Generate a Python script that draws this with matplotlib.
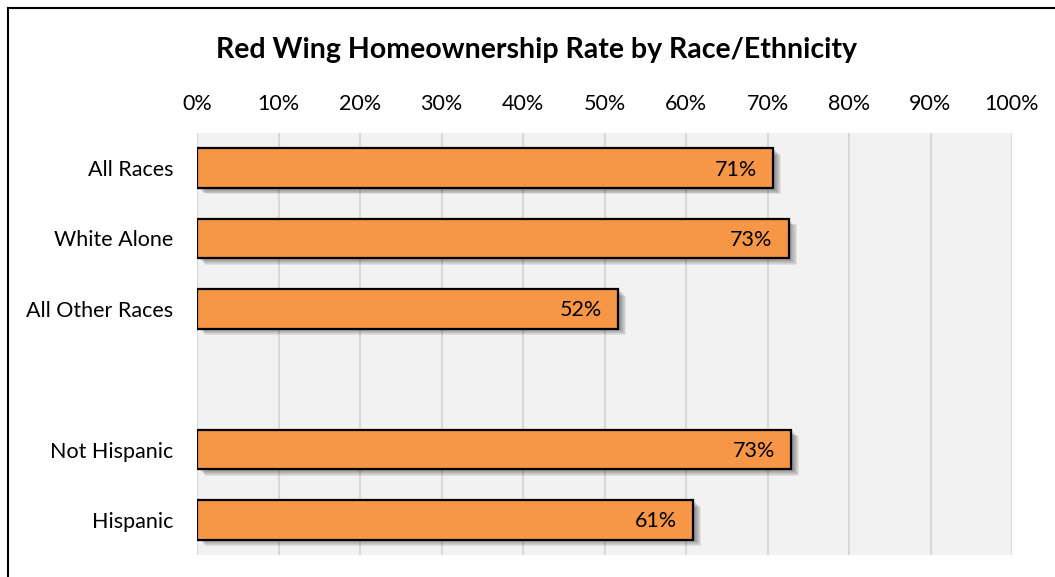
import numpy as np
import matplotlib.pyplot as plt
from matplotlib.ticker import FuncFormatter, MultipleLocator
from matplotlib.patches import Rectangle

plt.rcParams['font.family'] = ['Lato', 'DejaVu Sans']

# homeownership rate (%) by group; the empty slot splits race from ethnicity
groups = ["All Races", "White Alone", "All Other Races", "", "Not Hispanic", "Hispanic"]
rates = [70.7, 72.6, 51.7, None, 72.9, 60.9]

fig = plt.figure(figsize=(10.55, 5.77), dpi=100)
ax = fig.add_axes([197/1055, 22/577, 815/1055, 422/577])

ax.set_facecolor("#F2F2F2")
ax.set_xlim(0, 100)
ax.set_ylim(len(groups) - 0.5, -0.5)
ax.xaxis.set_major_locator(MultipleLocator(10))
ax.xaxis.set_major_formatter(FuncFormatter(lambda v, p: f"{v:.0f}%"))
ax.xaxis.tick_top()
ax.grid(axis="x", color="#D9D9D9", lw=1.5)
ax.set_axisbelow(True)
for s in ax.spines.values():
    s.set_visible(False)
ax.tick_params(length=0, labelsize=15.5, colors="black")
ax.tick_params(axis="x", pad=14)
ax.tick_params(axis="y", pad=17)
ax.set_yticks(range(len(groups)))
ax.set_yticklabels(groups)

h = 0.56
for i, v in enumerate(rates):
    if v is None:
        continue
    # soft drop shadow
    for k in range(7):
        off = 0.2 + k * 0.13
        ax.add_patch(Rectangle((off, i - h / 2 + 0.015 + k * 0.013), v, h,
                               color="black", alpha=0.07, lw=0, zorder=2))
    ax.barh(i, v, height=h, color="#F79646", edgecolor="black", lw=1.6, zorder=3)
    ax.text(v - 2.0, i + 0.02, f"{v:.0f}%", ha="right", va="center",
            fontsize=15.5, zorder=4)

fig.text(537/1055, 1 - 50/577, "Red Wing Homeownership Rate by Race/Ethnicity",
         ha="center", va="center", fontsize=20.5, fontweight="bold")

# chart frame, only top and left edges fall inside the image
fig.add_artist(plt.Line2D([8/1055, 8/1055], [0, 1 - 8/577], color="black", lw=1.5,
                          transform=fig.transFigure))
fig.add_artist(plt.Line2D([8/1055, 1], [1 - 8/577, 1 - 8/577], color="black", lw=1.5,
                          transform=fig.transFigure))

fig.savefig("out.png", dpi=100)
